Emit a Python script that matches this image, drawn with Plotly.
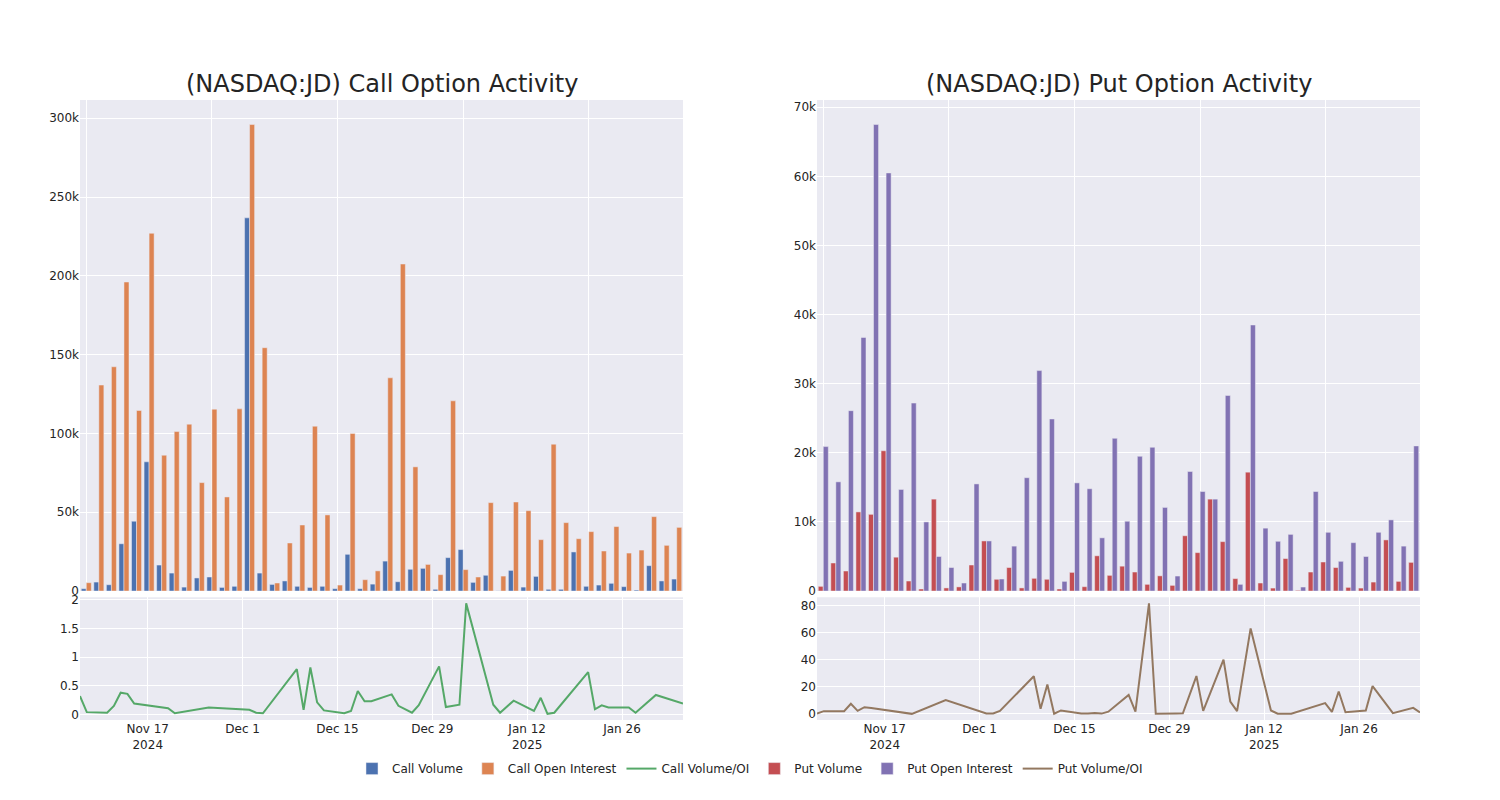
import plotly.graph_objects as go
from plotly.subplots import make_subplots

dates = [
    "2024-11-07", "2024-11-08", "2024-11-11", "2024-11-12", "2024-11-13", "2024-11-14", "2024-11-15",
    "2024-11-20", "2024-11-21", "2024-11-26",
    "2024-12-02", "2024-12-03", "2024-12-04", "2024-12-09", "2024-12-10", "2024-12-11", "2024-12-12",
    "2024-12-13", "2024-12-16", "2024-12-17", "2024-12-18", "2024-12-19", "2024-12-20", "2024-12-23",
    "2024-12-24", "2024-12-26", "2024-12-27", "2024-12-30", "2024-12-31",
    "2025-01-02", "2025-01-03", "2025-01-06", "2025-01-07", "2025-01-08", "2025-01-10", "2025-01-13",
    "2025-01-14", "2025-01-15", "2025-01-16", "2025-01-21", "2025-01-22", "2025-01-23", "2025-01-24",
    "2025-01-27", "2025-01-28", "2025-01-31", "2025-02-03", "2025-02-04",
]

call_volume = [
    1500, 5700, 4000, 30000, 44300, 82000, 16500, 11400, 2500, 8300,
    8900, 2300, 3000, 236800, 11400, 4200, 6400, 3000, 2300, 3000,
    1500, 23300, 1500, 4400, 19000, 5900, 13800, 14400, 1100, 21200,
    26300, 5500, 10000, 100, 13100, 2500, 9300, 1100, 1100, 24800,
    3000, 3800, 4900, 2800, 600, 16100, 6400, 7600,
]
call_oi = [
    5300, 130700, 142300, 196100, 114600, 227000, 86200, 101200, 105900, 68800,
    115400, 59700, 115600, 296000, 154400, 5100, 30500, 41900, 104600, 48300,
    3800, 100000, 7200, 12800, 135300, 207500, 78800, 16900, 10400, 120700,
    13600, 8900, 56100, 9500, 56500, 51000, 32600, 93200, 43400, 33200,
    37700, 25400, 40900, 24100, 26000, 47200, 29000, 40400,
]
call_ratio = [
    0.32, 0.04, 0.03, 0.15, 0.38, 0.36, 0.19, 0.11, 0.02, 0.12,
    0.08, 0.03, 0.02, 0.79, 0.08, 0.82, 0.21, 0.07, 0.02, 0.06,
    0.41, 0.23, 0.23, 0.35, 0.15, 0.03, 0.16, 0.84, 0.13, 0.17,
    1.94, 0.62, 0.17, 0.03, 0.24, 0.06, 0.29, 0.01, 0.03, 0.74,
    0.09, 0.16, 0.12, 0.12, 0.03, 0.34, 0.23, 0.19,
]

put_volume = [
    680, 4060, 2900, 11450, 11100, 20300, 4900, 1450, 300, 13300,
    450, 600, 3770, 7250, 1700, 3400, 450, 1840, 1700, 300,
    2700, 630, 5100, 2270, 3600, 2750, 970, 2200, 820, 8000,
    5560, 13300, 7150, 1800, 17200, 1160, 430, 4700, 100, 2750,
    4200, 3400, 530, 430, 1300, 7400, 1400, 4150,
]
put_oi = [
    20900, 15800, 26100, 36700, 67500, 60500, 14700, 27200, 10000, 5000,
    3400, 1160, 15500, 7250, 1740, 6500, 16400, 31900, 24900, 1400,
    15650, 14800, 7700, 22100, 10100, 19500, 20800, 12100, 2170, 17300,
    14400, 13300, 28300, 970, 38500, 9100, 7200, 8200, 580, 14400,
    8500, 4300, 7000, 5000, 8500, 10300, 6500, 21000,
]
put_ratio = [
    0.3, 2.0, 2.0, 7.4, 2.2, 4.9, 4.4, 0.8, 0.0, 10.1,
    0.3, 0.3, 2.2, 27.7, 3.7, 21.7, 0.1, 2.5, 0.2, 0.2,
    0.6, 0.2, 1.6, 14.0, 1.7, 81.5, 0.1, 0.3, 0.4, 27.9,
    2.2, 40.0, 9.1, 2.0, 63.0, 2.5, 0.1, 0.1, 0.1, 7.9,
    1.5, 16.5, 1.2, 2.5, 20.5, 0.5, 4.4, 1.0,
]

titles = ["(NASDAQ:JD) Call Option Activity", "(NASDAQ:JD) Put Option Activity"]

fig = make_subplots(
    rows=2, cols=2,
    row_heights=[0.8, 0.2],
    vertical_spacing=0.01,
    horizontal_spacing=0.1,
    subplot_titles=[titles[0], titles[1], "", ""],
)

fig.add_trace(go.Bar(x=dates, y=call_volume, name="Call Volume"), row=1, col=1)
fig.add_trace(go.Bar(x=dates, y=call_oi, name="Call Open Interest"), row=1, col=1)
fig.add_trace(go.Scatter(x=dates, y=call_ratio, mode="lines", name="Call Volume/OI"), row=2, col=1)
fig.add_trace(go.Bar(x=dates, y=put_volume, name="Put Volume"), row=1, col=2)
fig.add_trace(go.Bar(x=dates, y=put_oi, name="Put Open Interest"), row=1, col=2)
fig.add_trace(go.Scatter(x=dates, y=put_ratio, mode="lines", name="Put Volume/OI"), row=2, col=2)

fig.update_xaxes(type="category", showticklabels=False, dtick=10, tick0=0, row=1, col=1)
fig.update_xaxes(type="category", showticklabels=False, dtick=10, tick0=0, row=1, col=2)
fig.update_xaxes(type="date", row=2, col=1)
fig.update_xaxes(type="date", row=2, col=2)

fig.update_layout(
    template="seaborn",
    width=1500, height=800,
    font=dict(family="DejaVu Sans", size=12),
    barmode="group",
    legend=dict(orientation="h", x=0.5, xanchor="center", y=-0.055, yanchor="top"),
    margin=dict(l=80, r=80, t=100, b=80),
)
for ann in fig.layout.annotations:
    ann.font = dict(size=24, family="DejaVu Sans")

fig.write_html(
    "out.html",
    config={"displayModeBar": False},
    post_script="document.body.style.margin='0';",
)
